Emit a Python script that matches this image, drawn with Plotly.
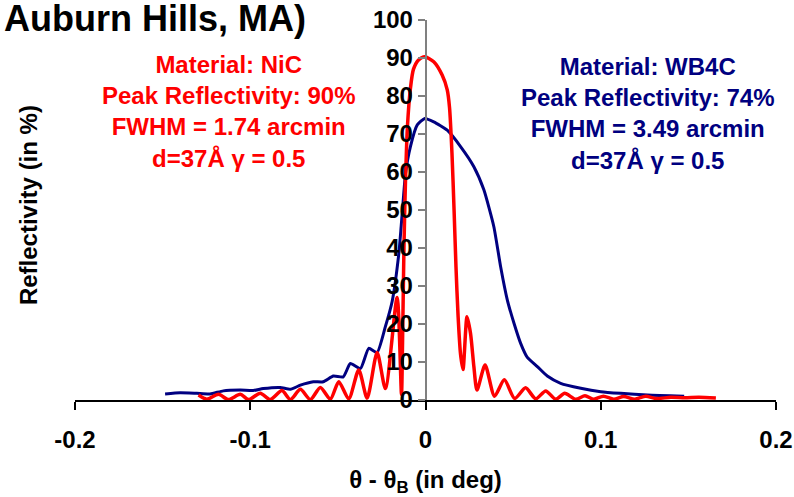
import plotly.graph_objects as go

# Rocking curves: reflectivity (%) versus angular offset from the Bragg angle (deg)
nic_theta = [-0.1295, -0.1248, -0.1181, -0.1124, -0.1057, -0.1010, -0.0943, -0.0886,
             -0.0819, -0.0771, -0.0714, -0.0657, -0.0600, -0.0543, -0.0495, -0.0438,
             -0.0381, -0.0333, -0.0276, -0.0229, -0.0162, -0.0137, -0.0131, -0.0123,
             -0.0114, -0.0103, -0.0086, -0.0069, -0.0040, -0.0004, 0.0047, 0.0095,
             0.0124, 0.0137, 0.0151, 0.0163, 0.0174, 0.0186, 0.0200, 0.0214, 0.0237,
             0.0257, 0.0276, 0.0294, 0.0340, 0.0394, 0.0450, 0.0509, 0.0571, 0.0629,
             0.0686, 0.0743, 0.0794, 0.0857, 0.0910, 0.0960, 0.1015, 0.1074, 0.1131,
             0.1194, 0.1257, 0.1314, 0.1400, 0.1480, 0.1560, 0.1657]
nic_refl = [1.3, 0.2, 1.5, 0.1, 1.5, 0.1, 1.8, 0.1,
            2.5, 0.1, 2.8, 0.1, 3.3, 0.2, 4.8, 0.3,
            7.9, 0.5, 12.5, 3.0, 27.0, 1.5, 15.0, 40.0,
            58.0, 72.0, 82.0, 87.0, 89.5, 90.3, 89.0, 85.5,
            81.6, 77.0, 65.0, 50.0, 35.0, 22.0, 12.0, 8.0, 21.9,
            17.5, 8.8, 2.6, 9.2, 1.0, 5.3, 0.4, 3.2, 0.3,
            2.4, 0.2, 1.75, 0.2, 1.1, 0.2, 1.0, 0.2, 0.9,
            0.2, 1.0, 0.4, 0.7, 0.6, 0.7, 0.5]

wb4c_theta = [-0.1486, -0.1400, -0.1305, -0.1229, -0.1154, -0.1057, -0.0983, -0.0926,
              -0.0829, -0.0771, -0.0714, -0.0640, -0.0583, -0.0526, -0.0469, -0.0429,
              -0.0371, -0.0324, -0.0276, -0.0229, -0.0190, -0.0152, -0.0139, -0.0127,
              -0.0114, -0.0086, -0.0047, -0.0004, 0.0047, 0.0124, 0.0200, 0.0276,
              0.0333, 0.0390, 0.0429, 0.0467, 0.0505, 0.0543, 0.0581, 0.0638, 0.0695,
              0.0771, 0.0886, 0.1000, 0.1114, 0.1267, 0.1476]
wb4c_refl = [1.6, 1.9, 1.75, 1.6, 2.4, 2.6, 2.5, 3.0,
             3.3, 2.8, 3.9, 4.8, 4.8, 6.3, 6.1, 9.6,
             8.3, 13.6, 12.5, 19.3, 26.0, 38.6, 45.6, 52.6,
             59.6, 66.7, 72.4, 74.1, 73.2, 71.0, 66.7, 61.4,
             55.3, 45.6, 35.0, 26.3, 20.2, 14.9, 11.2, 8.8, 6.3,
             4.4, 3.1, 2.2, 1.75, 1.3, 1.0]

x_ticks = [-0.2, -0.1, 0, 0.1, 0.2]
x_tick_labels = ["-0.2", "-0.1", "0", "0.1", "0.2"]
y_ticks = [0, 10, 20, 30, 40, 50, 60, 70, 80, 90, 100]

FONT = "Liberation Sans, Arial, sans-serif"
RED = "#FF0000"
NAVY = "#000080"

fig = go.Figure()
fig.add_trace(go.Scatter(x=wb4c_theta, y=wb4c_refl, mode="lines",
                         line=dict(color=NAVY, width=3, shape="spline", smoothing=0.5),
                         showlegend=False))
fig.add_trace(go.Scatter(x=nic_theta, y=nic_refl, mode="lines",
                         line=dict(color=RED, width=3.5, shape="spline", smoothing=0.7),
                         showlegend=False))

fig.update_layout(
    width=794, height=497,
    margin=dict(l=75, r=18, t=20, b=97),
    paper_bgcolor="white", plot_bgcolor="white",
    font=dict(family=FONT, size=24, color="black", weight="bold"),
    xaxis=dict(range=[-0.2, 0.2], tickvals=x_ticks, ticktext=x_tick_labels,
               automargin=False,
               showgrid=False, zeroline=False, showline=True, linecolor="black",
               linewidth=1.5, ticks="outside", ticklen=8, tickwidth=1.5,
               tickcolor="black", tickfont=dict(size=24), ticklabelstandoff=9,
               title=dict(text="θ - θ<sub>B</sub> (in deg)", font=dict(size=24),
                          standoff=22)),
    yaxis=dict(range=[0, 100], tickvals=y_ticks, anchor="free", position=0.5,
               automargin=False,
               showgrid=False, zeroline=False, showline=True, linecolor="#808080",
               linewidth=1.5, ticks="outside", ticklen=7, tickwidth=1.5,
               tickcolor="#808080", tickfont=dict(size=24)),
)

fig.add_annotation(text="Auburn Hills, MA)", xref="paper", yref="paper",
                   x=-0.104, y=1.003, xanchor="left", yanchor="middle",
                   showarrow=False, font=dict(size=36, color="black"))
fig.add_annotation(text="Reflectivity (in %)", xref="paper", yref="paper",
                   x=-0.067, y=0.513, xanchor="center", yanchor="middle",
                   textangle=-90, showarrow=False,
                   font=dict(size=24, color="black"))
fig.add_annotation(text="Material: NiC<br>Peak Reflectivity: 90%<br>FWHM = 1.74 arcmin<br>d=37Å γ = 0.5",
                   xref="x", yref="y", x=-0.1126, y=75.8, showarrow=False,
                   align="center", font=dict(size=24, color=RED))
fig.add_annotation(text="Material: WB4C<br>Peak Reflectivity: 74%<br>FWHM = 3.49 arcmin<br>d=37Å γ = 0.5",
                   xref="x", yref="y", x=0.1269, y=75.3, showarrow=False,
                   align="center", font=dict(size=24, color=NAVY))

fig.write_html("out.html")
